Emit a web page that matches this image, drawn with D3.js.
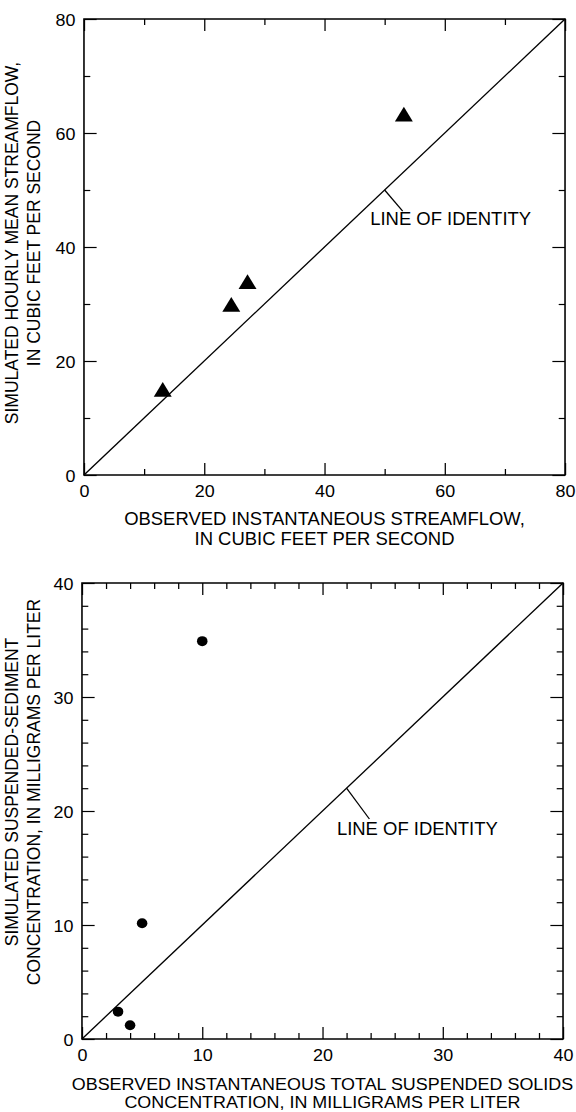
<!DOCTYPE html>
<html>
<head>
<meta charset="utf-8">
<script src="https://cdn.jsdelivr.net/npm/d3@7"></script>
<style>
  html, body { margin: 0; padding: 0; background: #fff; }
  svg { display: block; }
  text { font-family: "Liberation Sans", Arial, sans-serif; fill: #000; }
</style>
</head>
<body>
<svg id="chart"></svg>
<script>
// ---------- data ----------
const flowObserved  = [13.1, 24.5, 27.2, 53.2];
const flowSimulated = [14.6, 29.5, 33.5, 62.9];
const flowMajorTicks = [0, 20, 40, 60, 80];
const flowMinorTicks = [10, 30, 50, 70];

const sedObserved  = [3.0, 4.0, 5.0, 10.0];
const sedSimulated = [2.4, 1.2, 10.15, 34.9];
const sedMajorTicks = [0, 10, 20, 30, 40];
const sedMinorTicks = [2, 4, 6, 8, 12, 14, 16, 18, 22, 24, 26, 28, 32, 34, 36, 38];

const identityLabel = "LINE OF IDENTITY";

// ---------- layout ----------
const VBW = 546, H = 1112;
const svg = d3.select("#chart")
  .attr("width", 576).attr("height", H)
  .attr("viewBox", `0 0 ${VBW} ${H}`)
  .attr("preserveAspectRatio", "none");

function panel(cfg) {
  const x = d3.scaleLinear().domain(cfg.domain).range([cfg.left, cfg.right]);
  const y = d3.scaleLinear().domain(cfg.domain).range([cfg.bottom, cfg.top]);
  const g = svg.append("g");
  const fs = 17;

  function axisGroup(axis, tx, ty, labels) {
    const a = g.append("g").attr("transform", `translate(${tx},${ty})`).call(axis);
    a.select(".domain").remove();
    a.selectAll(".tick line").attr("stroke", "#000").attr("stroke-width", 1.2);
    a.selectAll("text").attr("font-size", fs).attr("font-family", "Liberation Sans, Arial, sans-serif").attr("fill", "#000");
    if (!labels) a.selectAll("text").remove();
    return a;
  }
  // major ticks
  axisGroup(d3.axisBottom(x).tickValues(cfg.major).tickSize(-12).tickPadding(8).tickFormat(d3.format("d")), 0, cfg.bottom, true)
    .selectAll("text").attr("y", 22).attr("dy", 0);
  axisGroup(d3.axisLeft(y).tickValues(cfg.major).tickSize(-12).tickPadding(8).tickFormat(d3.format("d")), cfg.left, 0, true)
    .selectAll("text").attr("dy", "0.36em");
  axisGroup(d3.axisTop(x).tickValues(cfg.major).tickSize(-12), 0, cfg.top, false);
  axisGroup(d3.axisRight(y).tickValues(cfg.major).tickSize(-12), cfg.right, 0, false);
  // minor ticks
  axisGroup(d3.axisBottom(x).tickValues(cfg.minor).tickSize(-6), 0, cfg.bottom, false);
  axisGroup(d3.axisLeft(y).tickValues(cfg.minor).tickSize(-6), cfg.left, 0, false);
  axisGroup(d3.axisTop(x).tickValues(cfg.minor).tickSize(-6), 0, cfg.top, false);
  axisGroup(d3.axisRight(y).tickValues(cfg.minor).tickSize(-6), cfg.right, 0, false);

  // frame
  g.append("rect")
    .attr("x", cfg.left).attr("y", cfg.top)
    .attr("width", cfg.right - cfg.left).attr("height", cfg.bottom - cfg.top)
    .attr("fill", "none").attr("stroke", "#000").attr("stroke-width", 1.5);

  // identity line
  g.append("line")
    .attr("x1", x(cfg.domain[0])).attr("y1", y(cfg.domain[0]))
    .attr("x2", x(cfg.domain[1])).attr("y2", y(cfg.domain[1]))
    .attr("stroke", "#000").attr("stroke-width", 1.3);
  // callout
  g.append("line")
    .attr("x1", x(cfg.callout[0])).attr("y1", y(cfg.callout[0]))
    .attr("x2", x(cfg.callout[1])).attr("y2", y(cfg.callout[2]))
    .attr("stroke", "#000").attr("stroke-width", 1.2);
  g.append("text")
    .attr("x", x(cfg.callout[3])).attr("y", y(cfg.callout[4]))
    .attr("font-size", 17.5).text(identityLabel);

  // points
  const pts = cfg.xs.map((v, i) => [v, cfg.ys[i]]);
  if (cfg.marker === "triangle") {
    const sym = d3.symbol(d3.symbolTriangle, 125);
    g.selectAll("path.pt").data(pts).join("path").attr("class", "pt")
      .attr("d", sym)
      .attr("transform", d => `translate(${x(d[0])},${y(d[1])})`)
      .attr("fill", "#000");
  } else {
    g.selectAll("circle.pt").data(pts).join("circle").attr("class", "pt")
      .attr("cx", d => x(d[0])).attr("cy", d => y(d[1])).attr("r", 5)
      .attr("fill", "#000");
  }

  // x title
  const cx = (cfg.left + cfg.right) / 2;
  cfg.xTitle.forEach((t, i) => {
    g.append("text").attr("x", cx).attr("y", cfg.xTitleY[i])
      .attr("text-anchor", "middle").attr("font-size", cfg.xTitleSize).text(t);
  });
  // y title
  cfg.yTitle.forEach((t, i) => {
    g.append("text")
      .attr("transform", `translate(${cfg.yTitleX[i]},${cfg.yTitleCenter}) rotate(-90)`)
      .attr("text-anchor", "middle").attr("font-size", 17.5).text(t);
  });
}

panel({
  domain: [0, 80], left: 79.6, right: 535.6, top: 19, bottom: 475,
  major: flowMajorTicks, minor: flowMinorTicks,
  xs: flowObserved, ys: flowSimulated, marker: "triangle",
  callout: [50, 53, 46.3, 47.6, 43.9],
  xTitle: ["OBSERVED INSTANTANEOUS STREAMFLOW,", "IN CUBIC FEET PER SECOND"],
  xTitleY: [525, 545], xTitleSize: 17.5,
  yTitle: ["SIMULATED HOURLY MEAN STREAMFLOW,", "IN CUBIC FEET PER SECOND"],
  yTitleX: [17.5, 37.5], yTitleCenter: 243
});

panel({
  domain: [0, 40], left: 77.7, right: 533.7, top: 583, bottom: 1039,
  major: sedMajorTicks, minor: sedMinorTicks,
  xs: sedObserved, ys: sedSimulated, marker: "circle",
  callout: [22, 23.9, 19.3, 21.2, 17.9],
  xTitle: ["OBSERVED INSTANTANEOUS TOTAL SUSPENDED SOLIDS", "CONCENTRATION, IN MILLIGRAMS PER LITER"],
  xTitleY: [1090, 1108], xTitleSize: 17,
  yTitle: ["SIMULATED SUSPENDED-SEDIMENT", "CONCENTRATION, IN MILLIGRAMS PER LITER"],
  yTitleX: [17.5, 37.5], yTitleCenter: 792
});
</script>
</body>
</html>
